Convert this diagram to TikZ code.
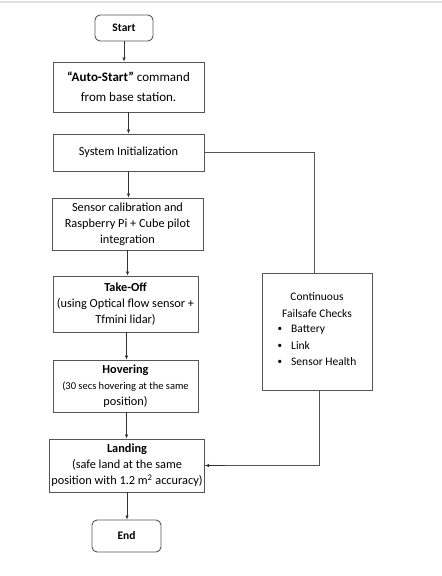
\documentclass[tikz,border=0pt]{standalone}
\usepackage{fontspec}
\setmainfont{Carlito}
\usetikzlibrary{arrows.meta}

\definecolor{boxline}{HTML}{555555}
\tikzset{
  stepbox/.style={draw=boxline, line width=0.9pt, align=center, inner sep=2pt,
    font=\fontsize{12.3}{16}\selectfont},
  termbox/.style={stepbox, rounded corners=5pt, font=\bfseries\fontsize{11.5}{14}\selectfont},
  flow/.style={draw=black!80, line width=0.7pt, -{Latex[length=4pt,width=3.5pt]}},
  link/.style={draw=boxline, line width=0.9pt}
}
\newcommand{\checkitem}[1]{\raisebox{1pt}{\scalebox{0.8}{\textbullet}}\hspace{9pt}#1}

\begin{document}
\begin{tikzpicture}[x=1pt,y=-1pt]
  \useasboundingbox[fill=white] (0,0) rectangle (442,576);
  \draw[black!12, line width=1.5pt] (0,2) -- (442,2);

  \node[termbox, minimum width=58, minimum height=26] (start) at (124,28) {Start};
  \node[stepbox, minimum width=151, minimum height=50, font=\fontsize{13}{20}\selectfont]
    (auto) at (128.5,87) {\textbf{“Auto-Start”} command\\from base station.};
  \node[stepbox, minimum width=151, minimum height=37] (init) at (128.5,152.5) {System Initialization};
  \node[stepbox, minimum width=151, minimum height=52] (calib) at (127.5,224)
    {Sensor calibration and\\Raspberry Pi + Cube pilot\\integration};
  \node[stepbox, minimum width=145, minimum height=56] (takeoff) at (125.5,304)
    {\textbf{Take-Off}\\(using Optical flow sensor +\\Tfmini lidar)};
  \node[stepbox, minimum width=145, minimum height=52] (hover) at (125.5,386)
    {\textbf{Hovering}\\\fontsize{10.5}{15}\selectfont (30 secs hovering at the same\\position)};
  \node[stepbox, minimum width=148, minimum height=53] (land) at (127,465.5)
    {\textbf{Landing}\\(safe land at the same\\position with 1.2 m\textsuperscript{2} accuracy)};
  \node[termbox, minimum width=69, minimum height=32] (end) at (126.5,536) {End};

  % failsafe checks, fed from initialization and back into landing
  \node[stepbox, minimum width=110, minimum height=117, font=\fontsize{11.5}{16.4}\selectfont]
    (fail) at (317,331.5) {Continuous\\Failsafe Checks\\[3pt]
      \begin{tabular}{@{}l@{}}\checkitem{Battery}\\\checkitem{Link}\\
      \checkitem{Sensor Health}\end{tabular}};

  \draw[flow] (start.south) -- (start.south |- auto.north);
  \draw[flow] (auto.south) -- (auto.south |- init.north);
  \draw[flow] (init.south) -- (init.south |- calib.north);
  \draw[flow] (calib.south) -- (calib.south |- takeoff.north);
  \draw[flow] ([xshift=1]takeoff.south) -- ([xshift=1]takeoff.south |- hover.north);
  \draw[flow] ([xshift=1]hover.south) -- ([xshift=1]hover.south |- land.north);
  \draw[flow] (land.south) -- (land.south |- end.north);

  \draw[link] (init.east) -| ([xshift=-3]fail.north);
  \draw[link] ([xshift=2]fail.south) |- (land.east);
  \draw[flow] ([xshift=20]land.east) -- (land.east);

\end{tikzpicture}
\end{document}
